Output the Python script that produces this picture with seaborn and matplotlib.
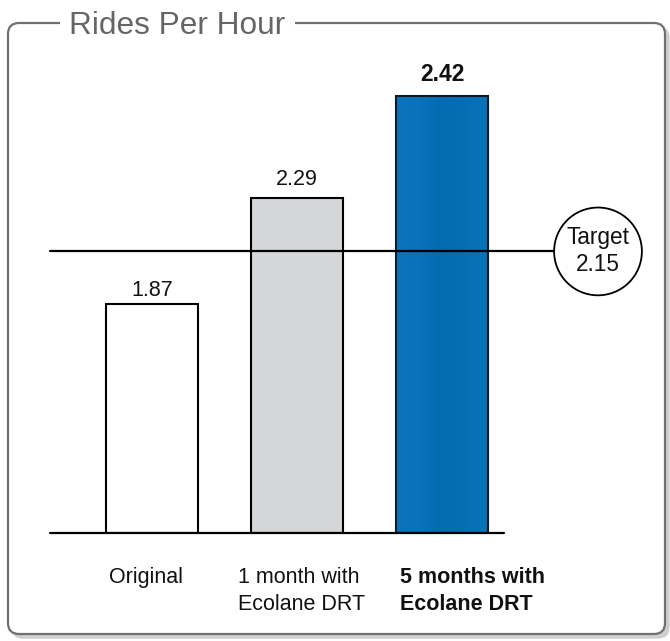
import numpy as np
import pandas as pd
import matplotlib
matplotlib.use("Agg")
import matplotlib.pyplot as plt
import seaborn as sns
from matplotlib.patches import FancyBboxPatch
from matplotlib.colors import LinearSegmentedColormap

# ---------------- data ----------------
categories = ["Original", "1 month with\nEcolane DRT", "5 months with\nEcolane DRT"]
values = [1.87, 2.29, 2.42]
target = 2.15
title = "Rides Per Hour"
target_label = "Target"

# ---------------- style ----------------
sns.set_theme(style="white")
plt.rcParams["font.family"] = ["Liberation Sans", "DejaVu Sans"]

bar_colors = ["#FFFFFF", "#D5D6D8", "#0A72BA"]
label_weights = ["normal", "normal", "bold"]
value_sizes = [15.5, 15.5, 16.5]
value_gap_px = [8, 13, 15]
label_dx_px = [-6, 5, 31]

W, H = 670, 641
fig = plt.figure(figsize=(W / 100, H / 100), dpi=100)

# the picture's vertical scale is not linear: use a function scale
K, CC = 7.0, 5.265e-8
PX_PER_UNIT = 120.8


def fwd(v):
    v = np.asarray(v, dtype=float)
    return v + CC * (np.exp(K * v) - 1.0)


_grid = np.linspace(-1.0, 3.2, 40001)
_fgrid = fwd(_grid)


def inv(t):
    return np.interp(np.asarray(t, dtype=float), _fgrid, _grid)


ax_left, ax_bottom, ax_w, ax_h = 50, 108, 454, 473
ax = fig.add_axes([ax_left / W, ax_bottom / H, ax_w / W, ax_h / H])

df = pd.DataFrame({"cat": categories, "val": values})
sns.barplot(data=df, x="cat", y="val", hue="cat", palette=bar_colors,
            legend=False, ax=ax, width=0.634, edgecolor="black",
            linewidth=1.5, saturation=1)

ax.set_yscale("function", functions=(fwd, inv))
ytop = float(inv(ax_h / PX_PER_UNIT))
ax.set_ylim(0, ytop)
ax.set_xlim(-0.703, 2.428)
ax.yaxis.set_major_locator(matplotlib.ticker.NullLocator())
ax.yaxis.set_minor_locator(matplotlib.ticker.NullLocator())
ax.set_xticks([])
ax.set_xlabel("")
ax.set_ylabel("")
for s in ax.spines.values():
    s.set_visible(False)
ax.patch.set_alpha(0)

# gradient on the blue bar
blue = ax.patches[2]
x0 = blue.get_x()
x1 = x0 + blue.get_width()
xa0 = ax.transAxes.inverted().transform(ax.transData.transform((x0, 1)))[0]
xa1 = ax.transAxes.inverted().transform(ax.transData.transform((x1, 1)))[0]
cmap = LinearSegmentedColormap.from_list(
    "g", ["#0A74BC", "#0972B9", "#026CB0", "#056FB4", "#0A74BB"])
grad = np.linspace(0, 1, 256).reshape(1, -1)
im = ax.imshow(grad, cmap=cmap, aspect="auto", extent=[xa0, xa1, 0, 1],
               transform=ax.transAxes, zorder=2, interpolation="bilinear")
im.set_clip_path(blue)
blue.set_facecolor("none")
blue.set_edgecolor("#0B1A26")
blue.set_zorder(3)
ax.set_xlim(-0.703, 2.428)
ax.set_ylim(0, ytop)

# baseline
ax.axhline(0, color="black", lw=1.6, clip_on=False, zorder=4)

# target line + circle
circ_x = (598 - ax_left) / ax_w
ax.axhline(target, xmin=0, xmax=circ_x, color="black", lw=1.6,
           clip_on=False, zorder=4)
ax.text(circ_x, target, f"{target_label}\n{target:.2f}",
        transform=ax.get_yaxis_transform(), ha="center", va="center",
        fontsize=16.3, color="#111111", linespacing=1.22, zorder=6,
        bbox=dict(boxstyle="circle,pad=0.55", fc="white", ec="black", lw=1.3),
        clip_on=False)

# value labels
for i, (v, wgt, fs, gap) in enumerate(zip(values, label_weights,
                                          value_sizes, value_gap_px)):
    ax.annotate(f"{v:.2f}", xy=(i, v), xytext=(0, gap * 0.72),
                textcoords="offset points", ha="center", va="baseline",
                fontsize=fs, fontweight=wgt, color="#111111",
                annotation_clip=False)

# category labels
for i, (c, wgt, dx) in enumerate(zip(categories, label_weights, label_dx_px)):
    ax.annotate(c, xy=(i, 0), xycoords=("data", "axes fraction"),
                xytext=(dx * 0.72, -34 * 0.72), textcoords="offset points",
                ha="center", va="top", multialignment="left",
                fontsize=15.5, fontweight=wgt, color="#111111",
                linespacing=1.35, annotation_clip=False)

# frame with shadow (pixel units via inches)
def px(x):
    return x / 100.0

fx0, fx1 = 8, 665
fy_top, fy_bot = 23, 634
shadow = FancyBboxPatch((px(fx0 + 4), px(H - fy_bot - 4)),
                        px(fx1 - fx0), px(fy_bot - fy_top),
                        boxstyle="round,pad=0,rounding_size=0.11",
                        transform=fig.dpi_scale_trans, fc="#CFCFCF",
                        ec="#CFCFCF", lw=1.0, zorder=-3)
frame = FancyBboxPatch((px(fx0), px(H - fy_bot)),
                       px(fx1 - fx0), px(fy_bot - fy_top),
                       boxstyle="round,pad=0,rounding_size=0.11",
                       transform=fig.dpi_scale_trans, fc="white",
                       ec="#707070", lw=1.6, zorder=-2)
fig.patches.append(shadow)
fig.patches.append(frame)

fig.text(69 / W, 1 - 34.5 / H, title, ha="left", va="baseline",
         fontsize=22.8, color="#666666",
         bbox=dict(boxstyle="square,pad=0.3", fc="white", ec="none"))

fig.savefig("out.png", dpi=100)
